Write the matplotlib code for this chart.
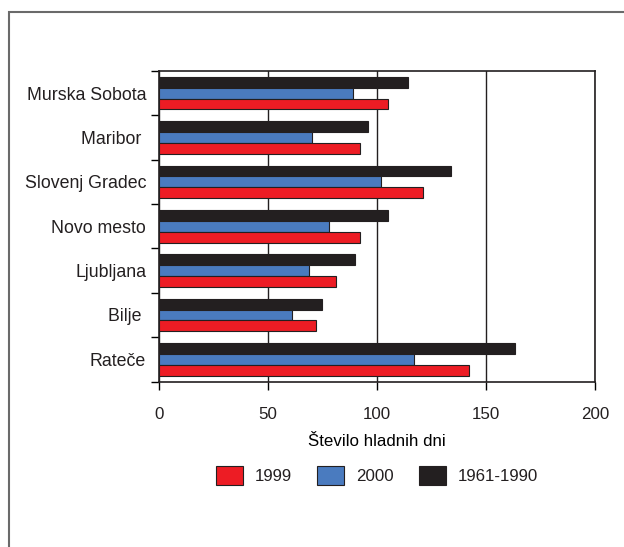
import numpy as np
import matplotlib.pyplot as plt
from matplotlib.patches import Rectangle

plt.rcParams['font.family'] = ['Liberation Sans', 'DejaVu Sans']
plt.rcParams['text.color'] = '#231f20'
plt.rcParams['xtick.labelcolor'] = '#231f20'
plt.rcParams['ytick.labelcolor'] = '#231f20'

# postaje in število hladnih dni
postaje = ["Murska Sobota", "Maribor ", "Slovenj Gradec", "Novo mesto",
           "Ljubljana", "Bilje ", "Rateče"]
dni_1999 = [105, 92, 121, 92, 81, 72, 142]
dni_2000 = [89, 70, 102, 78, 69, 61, 117]
dni_povp = [114, 96, 134, 105, 90, 75, 163]

barve = {"1999": "#ed1c24", "2000": "#4a7bbf", "1961-1990": "#231f20"}
fs = 12.2

fig = plt.figure(figsize=(6.24, 5.47), dpi=100)
ax = fig.add_axes([0.2543, 0.3025, 0.700, 0.5677])

y = np.arange(len(postaje))
h = 0.245
ax.barh(y - h, dni_povp, height=h, color=barve["1961-1990"], edgecolor="#231f20",
        linewidth=0.8, label="1961-1990", zorder=3)
ax.barh(y, dni_2000, height=h, color=barve["2000"], edgecolor="#231f20",
        linewidth=0.8, label="2000", zorder=3)
ax.barh(y + h, dni_1999, height=h, color=barve["1999"], edgecolor="#231f20",
        linewidth=0.8, label="1999", zorder=3)

ax.set_ylim(len(postaje) - 0.5, -0.5)
ax.set_xlim(0, 200)
ax.set_yticks(y)
ax.set_yticklabels(postaje, fontsize=12.8)
ax.set_yticks(np.arange(len(postaje) + 1) - 0.5, minor=True)
ax.tick_params(axis="y", which="major", length=0, pad=9)
ax.tick_params(axis="y", which="minor", length=6, width=1, direction="out")
ax.set_xticks([0, 50, 100, 150, 200])
ax.tick_params(axis="x", length=6, width=1, direction="out", pad=12, labelsize=fs)
ax.grid(axis="x", color="#231f20", linewidth=1, zorder=1)
for s in ax.spines.values():
    s.set_linewidth(1.2)
    s.set_color("#231f20")

ax.set_xlabel("Število hladnih dni", fontsize=fs, labelpad=9)

handles, labels = ax.get_legend_handles_labels()
order = [2, 1, 0]
fig.legend([handles[i] for i in order], [labels[i] for i in order],
           loc="center", bbox_to_anchor=(0.604, 0.131), ncol=3, frameon=False,
           fontsize=fs, handlelength=1.6, handleheight=1.3, columnspacing=1.5,
           handletextpad=0.7)

# okvir slike
fig.patches.append(Rectangle((8.5 / 624, -0.1), 1.2, 1 - 12 / 547 + 0.1,
                             transform=fig.transFigure, fill=False,
                             edgecolor="#6a6a6a", linewidth=1.5))

fig.savefig("out.png", dpi=100)
